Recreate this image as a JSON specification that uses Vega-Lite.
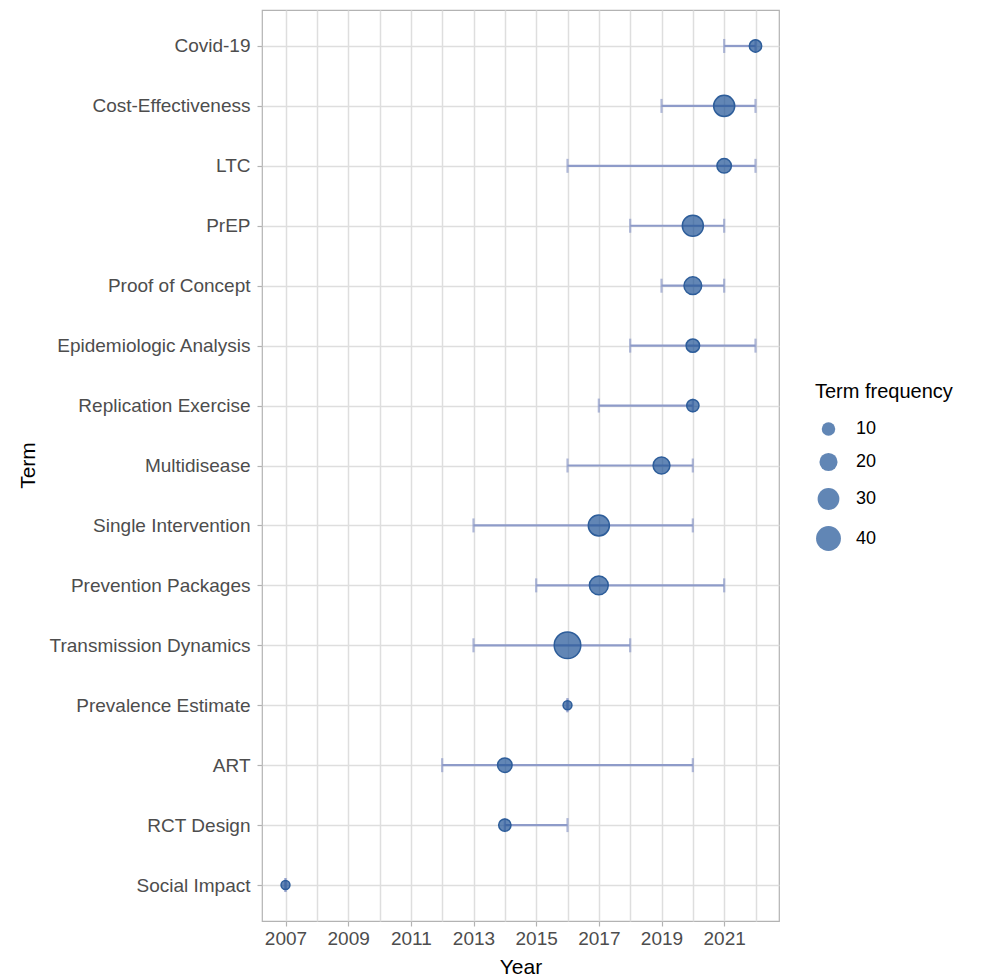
{
  "$schema": "https://vega.github.io/schema/vega-lite/v6.json",
  "autosize": {"type": "none"},
  "padding": {"left": 262, "top": 10, "right": 207, "bottom": 59},
  "width": 517,
  "height": 911,
  "background": "white",
  "config": {
    "view": {"stroke": "#b3b3b3", "strokeWidth": 1.2},
    "font": "Liberation Sans",
    "axis": {
      "domain": false,
      "gridColor": "#dedede",
      "gridWidth": 1.5,
      "gridOpacity": 1,
      "tickColor": "#b3b3b3",
      "tickSize": 5,
      "tickWidth": 1.2,
      "labelFont": "Liberation Sans",
      "labelFontSize": 19,
      "labelColor": "#4d4d4d",
      "labelLimit": 0,
      "titleFont": "Liberation Sans",
      "titleFontSize": 21,
      "titleFontWeight": "normal",
      "titleColor": "#000000"
    }
  },
  "data": {
    "values": [
      {"Term": "Covid-19", "Year": 2022, "Min": 2021, "Max": 2022, "Freq": 8},
      {"Term": "Cost-Effectiveness", "Year": 2021, "Min": 2019, "Max": 2022, "Freq": 28},
      {"Term": "LTC", "Year": 2021, "Min": 2016, "Max": 2022, "Freq": 12},
      {"Term": "PrEP", "Year": 2020, "Min": 2018, "Max": 2021, "Freq": 28},
      {"Term": "Proof of Concept", "Year": 2020, "Min": 2019, "Max": 2021, "Freq": 19},
      {"Term": "Epidemiologic Analysis", "Year": 2020, "Min": 2018, "Max": 2022, "Freq": 10},
      {"Term": "Replication Exercise", "Year": 2020, "Min": 2017, "Max": 2020, "Freq": 8},
      {"Term": "Multidisease", "Year": 2019, "Min": 2016, "Max": 2020, "Freq": 17},
      {"Term": "Single Intervention", "Year": 2017, "Min": 2013, "Max": 2020, "Freq": 28},
      {"Term": "Prevention Packages", "Year": 2017, "Min": 2015, "Max": 2021, "Freq": 22},
      {"Term": "Transmission Dynamics", "Year": 2016, "Min": 2013, "Max": 2018, "Freq": 46},
      {"Term": "Prevalence Estimate", "Year": 2016, "Min": 2016, "Max": 2016, "Freq": 3},
      {"Term": "ART", "Year": 2014, "Min": 2012, "Max": 2020, "Freq": 12},
      {"Term": "RCT Design", "Year": 2014, "Min": 2014, "Max": 2016, "Freq": 8},
      {"Term": "Social Impact", "Year": 2007, "Min": 2007, "Max": 2007, "Freq": 3}
    ]
  },
  "encoding": {
    "y": {
      "field": "Term",
      "type": "nominal",
      "sort": ["Covid-19", "Cost-Effectiveness", "LTC", "PrEP", "Proof of Concept", "Epidemiologic Analysis", "Replication Exercise", "Multidisease", "Single Intervention", "Prevention Packages", "Transmission Dynamics", "Prevalence Estimate", "ART", "RCT Design", "Social Impact"],
      "scale": {"type": "point", "padding": 0.6},
      "axis": {"title": "Term", "grid": true, "labelPadding": 7, "titleX": -234, "titleY": 455, "titleAngle": -90, "titleBaseline": "middle", "titleAlign": "center"}
    }
  },
  "resolve": {"axis": {"x": "independent"}},
  "layer": [
    {
      "mark": {"type": "rule", "color": "#8e9bc9", "strokeWidth": 2.2},
      "encoding": {
        "x": {
          "field": "Min",
          "type": "quantitative",
          "scale": {"domain": [2006.25, 2022.75], "nice": false, "zero": false},
          "axis": {
            "title": "Year",
            "orient": "bottom",
            "values": [2007, 2009, 2011, 2013, 2015, 2017, 2019, 2021],
            "format": "d",
            "labelOverlap": false,
            "labelPadding": 3,
            "titlePadding": 8
          }
        },
        "x2": {"field": "Max"}
      }
    },
    {
      "mark": {"type": "tick", "color": "#8e9bc9", "thickness": 2.2, "size": 14},
      "encoding": {"x": {"field": "Min", "type": "quantitative", "axis": null}}
    },
    {
      "mark": {"type": "tick", "color": "#8e9bc9", "thickness": 2.2, "size": 14},
      "encoding": {"x": {"field": "Max", "type": "quantitative", "axis": null}}
    },
    {
      "mark": {"type": "circle", "fill": "#1f5396", "fillOpacity": 0.7, "stroke": "#2d5d9a", "strokeWidth": 1.5, "opacity": 1},
      "encoding": {
        "x": {
          "field": "Year",
          "type": "quantitative",
          "axis": {
            "orient": "top",
            "title": null,
            "values": [2006, 2008, 2010, 2012, 2014, 2016, 2018, 2020, 2022],
            "labels": false,
            "ticks": false,
            "domain": false,
            "grid": true
          }
        },
        "size": {
          "field": "Freq",
          "type": "quantitative",
          "scale": {"domain": [3, 46], "range": [79, 707]},
          "legend": {
            "title": "Term frequency",
            "values": [10, 20, 30, 40],
            "orient": "none",
            "legendX": 553,
            "legendY": 372,
            "titleFontSize": 20,
            "titleFontWeight": "normal",
            "titleColor": "#000000",
            "titlePadding": 18,
            "labelFontSize": 18,
            "labelColor": "#000000",
            "labelOffset": 14,
            "rowPadding": 10,
            "symbolFillColor": "#1f5396",
            "symbolOpacity": 0.7,
            "symbolStrokeColor": "#2d5d9a",
            "symbolStrokeWidth": 1.5,
            "symbolType": "circle"
          }
        }
      }
    }
  ]
}
